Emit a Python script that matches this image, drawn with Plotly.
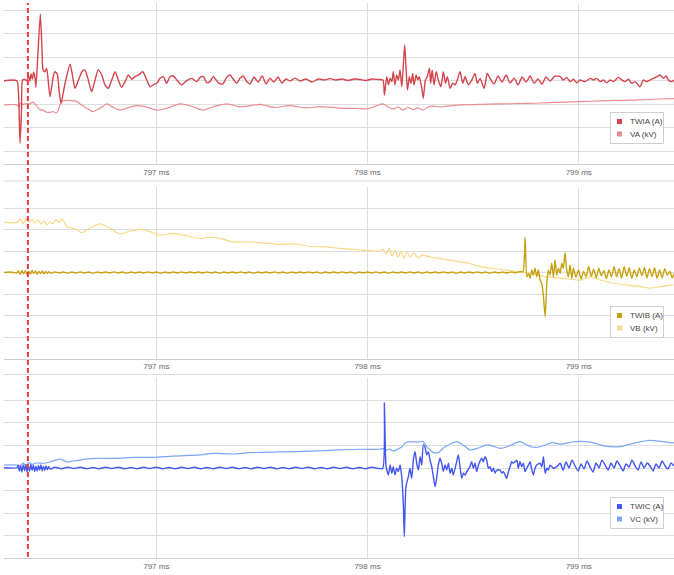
import plotly.graph_objects as go

# ---------------- data (time in microseconds after 796 ms, values in grid units) -------------
TWIA_US = [279, 340, 348, 355, 362, 367, 378, 388, 395, 402, 407, 414, 419, 426, 430, 438, 451, 459, 464, 473,
           481, 497, 512, 520, 531, 541, 549, 568, 592, 604, 615, 626, 639, 648, 658, 664, 678, 694, 710, 725,
           742, 757, 773, 789, 805, 820, 836, 852, 868, 884, 899, 915, 936, 955, 970, 986, 1002, 1018, 1033, 1049,
           1065, 1081, 1097, 1120, 1144, 1168, 1191, 1207, 1223, 1239, 1254, 1270, 1294, 1315, 1333, 1349, 1365, 1381, 1396, 1412,
           1428, 1444, 1463, 1482, 1501, 1520, 1538, 1557, 1576, 1595, 1614, 1633, 1657, 1680, 1709, 1737, 1766, 1794, 1823, 1851,
           1879, 1908, 1936, 1965, 1993, 2021, 2050, 2073, 2080, 2091, 2099, 2107, 2115, 2122, 2130, 2138, 2146, 2154, 2162, 2170,
           2176, 2182, 2189, 2198, 2206, 2214, 2220, 2230, 2238, 2245, 2257, 2264, 2274, 2283, 2293, 2299, 2306, 2315, 2325, 2335,
           2347, 2359, 2369, 2378, 2391, 2404, 2414, 2425, 2438, 2451, 2462, 2477, 2494, 2509, 2520, 2533, 2552, 2567, 2580, 2599,
           2618, 2637, 2656, 2675, 2694, 2713, 2732, 2751, 2770, 2789, 2807, 2826, 2845, 2864, 2888, 2912, 2927, 2943, 2959, 2975,
           2991, 3006, 3030, 3054, 3069, 3085, 3101, 3117, 3133, 3148, 3164, 3188, 3204, 3219, 3235, 3251, 3267, 3290, 3306, 3322,
           3338, 3353, 3370, 3385, 3401, 3414, 3424, 3441, 3451]
TWIA_VAL = [0, 0, -0.61, -2.66, -1.25, 0.03, 0.05, 0, 0.20, -0.01, 0.29, 0.07, 0.37, 0.11, -0.28, 0.88, 2.84, 1.31, 0.46, 0.38,
            0.53, -0.68, 0.17, 0.38, 0.29, -0.52, -0.95, -0.11, 0.70, 0.17, -0.32, -0.11, 0.20, 0.38, 0.46, 0.43, 0.03, -0.47, 0.03, 0.46,
            0.24, -0.18, -0.32, 0.03, 0.38, 0.03, -0.28, -0.04, 0.24, 0.06, 0.17, 0.24, 0.38, 0.03, -0.26, -0.18, -0.11, 0.10, 0.17, -0.11,
            0.17, 0.20, 0.03, -0.18, 0, 0.10, -0.04, 0.14, 0.17, -0.09, -0.04, 0.17, -0.09, -0.14, 0.14, 0.24, 0.06, -0.11, 0.10, 0.20,
            -0.04, -0.14, 0.16, -0.06, 0.20, -0.14, 0.11, -0.06, 0.16, -0.10, 0.07, -0.01, 0.11, -0.01, 0.07, -0.06, 0.07, 0.03, 0.09, 0.03,
            0.07, 0.01, 0.07, 0.05, 0.01, 0.07, 0.05, 0.03, -0.61, 0.17, -0.18, 0.10, -0.04, 0.38, -0.18, 0.24, 0.03, 0.46, -0.26, 0.74,
            1.52, 0.60, -0.40, 0.17, -0.11, 0.31, -0.18, 0.24, 0.03, 0.17, -0.32, -0.75, 0.03, 0.17, 0.53, -0.11, 0.46, -0.18, 0.38, 0.03,
            -0.26, 0.38, -0.11, 0.17, -0.32, -0.11, -0.18, 0.03, 0.38, -0.11, 0.17, -0.18, 0.03, 0.31, -0.11, 0.10, -0.32, 0.31, 0.10, -0.14,
            0.20, -0.06, 0.24, -0.10, 0.11, -0.18, 0.16, -0.06, 0.20, -0.10, 0.07, -0.14, 0.16, -0.01, 0.20, 0.17, 0.03, 0.14, -0.04, 0.06,
            -0.09, 0.03, -0.04, 0.10, 0.03, 0.10, -0.04, 0.03, -0.09, 0.03, -0.04, 0.14, 0.03, -0.04, 0.06, -0.11, -0.04, -0.26, 0.03, -0.04,
            0.03, 0.10, 0.17, 0.24, 0.10, 0.20, 0.03, -0.04, 0.03]

VA_US = [279, 340, 350, 357, 369, 388, 402, 416, 430, 440, 449, 464, 478, 497, 511, 525, 535, 544, 558, 591,
         625, 639, 662, 686, 696, 734, 767, 795, 828, 861, 890, 937, 1003, 1051, 1112, 1174, 1221, 1269, 1335, 1396,
         1434, 1491, 1562, 1633, 1704, 1775, 1870, 1941, 1998, 2040, 2073, 2097, 2121, 2145, 2168, 2192, 2216, 2239, 2263, 2287,
         2310, 2343, 2377, 2438, 2533, 2628, 2722, 2817, 2912, 3006, 3101, 3196, 3290, 3385, 3451]
VA_VAL = [-1.03, -1.03, -1.12, -0.95, -1.01, -0.97, -0.99, -0.91, -1.03, -1.16, -1.23, -1.25, -1.33, -1.35, -1.31, -1.37, -1.29, -1.03, -0.86, -0.84,
          -0.89, -0.99, -1.12, -1.25, -1.32, -1.17, -0.99, -1.13, -1.25, -1.17, -1.08, -1.08, -1.25, -1.17, -0.99, -1.11, -1.25, -1.11, -0.99, -1.11,
          -1.08, -1.01, -1.14, -1.06, -1.16, -1.10, -1.17, -1.18, -1.20, -1.08, -0.99, -1.12, -1.20, -1.12, -1.25, -1.14, -1.23, -1.16, -1.25, -1.12,
          -1.08, -1.12, -1.08, -1.03, -1.01, -0.99, -0.97, -0.95, -0.91, -0.89, -0.86, -0.84, -0.82, -0.78, -0.76]

TWIB_US = [279, 310, 340, 348, 356, 364, 372, 380, 388, 396, 404, 412, 420, 428, 436, 444, 452, 460, 468, 476, 484, 492, 500,
           520, 540, 560, 580, 600, 620, 640, 660, 680, 700,
           720, 740, 760, 780, 800, 820, 840, 860, 880, 900,
           920, 940, 960, 980, 1000, 1020, 1040, 1060, 1080, 1100,
           1120, 1140, 1160, 1180, 1200, 1220, 1240, 1260, 1280, 1300,
           1320, 1340, 1360, 1380, 1400, 1420, 1440, 1460, 1480, 1500,
           1520, 1540, 1560, 1580, 1600, 1620, 1640, 1660, 1680, 1700,
           1720, 1740, 1760, 1780, 1800, 1820, 1840, 1860, 1880, 1900,
           1920, 1940, 1960, 1980, 2000, 2020, 2040, 2060, 2080, 2100,
           2120, 2140, 2160, 2180, 2200, 2220, 2240, 2260, 2280, 2300,
           2320, 2340, 2360, 2380, 2400, 2420, 2440, 2460, 2480, 2500,
           2520, 2540, 2560, 2580, 2600, 2620, 2640, 2660, 2680, 2700,
           2720, 2736,
           2746, 2754, 2762, 2770, 2778, 2785, 2793, 2801, 2809, 2817, 2825, 2833, 2841, 2849, 2856, 2864, 2872, 2880, 2888, 2896,
           2904, 2912, 2920, 2927, 2935, 2943, 2951, 2959, 2967,
           2975, 2987, 2999, 3011, 3023, 3035, 3047, 3059, 3071, 3083, 3095, 3107, 3119, 3131, 3143, 3155, 3167, 3179, 3191, 3203,
           3215, 3227, 3239, 3251, 3263, 3275, 3287, 3299, 3311, 3323, 3335, 3347, 3359, 3371, 3383, 3395, 3407, 3419, 3431, 3443, 3451]
TWIB_VAL = [0.00, 0.02, -0.02, 0.07, -0.08, 0.09, -0.06, 0.08, -0.09, 0.06, -0.07, 0.10, -0.05, 0.07, -0.08, 0.05, -0.05, 0.07, -0.06, 0.05, -0.05, 0.04, -0.03,
            0.03, -0.02, 0.02, -0.03, 0.02, -0.02, 0.03, -0.02, 0.02, -0.03,
            0.02, -0.02, 0.02, -0.02, 0.03, -0.02, 0.02, -0.03, 0.02, -0.02,
            0.02, -0.02, 0.03, -0.02, 0.02, -0.03, 0.02, -0.02, 0.02, -0.02,
            0.03, -0.02, 0.02, -0.02, 0.02, -0.02, 0.03, -0.02, 0.02, -0.03,
            0.02, -0.02, 0.02, -0.02, 0.03, -0.02, 0.02, -0.03, 0.02, -0.02,
            0.02, -0.02, 0.03, -0.02, 0.02, -0.03, 0.02, -0.02, 0.02, -0.02,
            0.03, -0.02, 0.02, -0.03, 0.02, -0.02, 0.02, -0.02, 0.03, -0.02,
            0.02, -0.03, 0.02, -0.02, 0.02, -0.02, 0.03, -0.02, 0.02, -0.03,
            0.02, -0.02, 0.02, -0.02, 0.03, -0.02, 0.02, -0.03, 0.02, -0.02,
            0.02, -0.02, 0.03, -0.02, 0.02, -0.03, 0.02, -0.02, 0.02, -0.02,
            0.03, -0.02, 0.02, -0.03, 0.02, -0.02, 0.02, -0.02, 0.03, -0.02,
            0.04, 0.04,
            1.64, -0.20, -0.04, -0.27, 0.12, -0.12, 0.20, -0.20, 0.12, -0.35, -0.50, -1.13, -2.06, -0.50, 0.12, -0.12, 0.43, -0.20, 0.58, -0.12,
            0.20, -0.04, 0.43, 0.20, 0.92, 0.12, -0.20, 0.35, -0.27,
            0.20, -0.22, 0.12, -0.30, 0.05, -0.20, 0.28, -0.18, 0.15, -0.25, 0.20, -0.15, 0.10, -0.28, 0.12, -0.20, 0.27, -0.20, 0.18, -0.26,
            0.27, -0.18, 0.22, -0.27, 0.12, -0.20, 0.20, -0.15, 0.22, -0.26, 0.18, -0.20, 0.22, -0.27, 0.12, -0.25, 0.18, -0.12, 0.05, -0.26, -0.04]

VB_US = [279, 340, 355, 369, 383, 397, 412, 426, 440, 454, 468, 483, 497, 511, 525, 539, 554, 568, 577, 601,
         625, 648, 686, 734, 781, 828, 876, 923, 970, 1018, 1079, 1145, 1207, 1254, 1302, 1363, 1434, 1515, 1586, 1657,
         1728, 1799, 1870, 1941, 2012, 2059, 2073, 2088, 2102, 2116, 2130, 2145, 2159, 2173, 2187, 2201, 2220, 2239, 2258, 2296,
         2343, 2414, 2485, 2533, 2628, 2707, 2770, 2849, 2927, 3006, 3054, 3101, 3164, 3227, 3290, 3338, 3385, 3448]
VB_VAL = [2.33, 2.33, 2.49, 2.26, 2.51, 2.35, 2.47, 2.30, 2.44, 2.26, 2.40, 2.21, 2.35, 2.26, 2.47, 2.33, 2.49, 2.26, 2.13, 2.07,
          1.98, 1.85, 2.07, 2.26, 2.06, 1.79, 1.93, 2.01, 1.90, 1.74, 1.82, 1.70, 1.59, 1.64, 1.59, 1.43, 1.43, 1.37, 1.30, 1.33,
          1.21, 1.19, 1.12, 1.07, 1.02, 1.00, 1.09, 0.86, 1.14, 0.77, 1.05, 0.72, 1.00, 0.67, 0.95, 0.72, 0.91, 0.67, 0.81, 0.72,
          0.65, 0.53, 0.42, 0.27, 0.15, 0.04, -0.04, -0.20, -0.27, -0.35, -0.20, -0.35, -0.50, -0.58, -0.66, -0.73, -0.66, -0.58]

TWIC_US = [279, 340, 346, 352, 358, 364, 370, 376, 382, 388, 394, 400, 406, 412, 418, 424, 430, 436, 442, 448, 454, 460, 466, 472, 478, 484, 490, 497,
           520, 550, 580, 610, 640, 670, 700, 730, 760, 790, 820, 850, 880, 910, 940, 970, 1000, 1030, 1060, 1090,
           1120, 1150, 1180, 1210, 1240, 1270, 1300, 1330, 1360, 1390, 1420, 1450, 1480, 1510, 1540, 1570, 1600, 1630,
           1660, 1690, 1720, 1750, 1780, 1810, 1840, 1870, 1900, 1930, 1960, 1990, 2020, 2050, 2072,
           2080, 2088, 2099, 2107, 2115, 2122, 2130, 2138, 2146, 2154, 2162, 2170, 2174, 2182, 2193, 2201, 2209, 2217, 2225, 2233,
           2241, 2249, 2257, 2264, 2272, 2280, 2288, 2296, 2304, 2312, 2320, 2328, 2335, 2343, 2351, 2359, 2367, 2375, 2383, 2391,
           2399, 2406, 2422, 2430, 2438, 2446, 2454, 2462, 2470, 2485, 2493, 2501, 2509, 2517, 2525, 2541, 2548, 2556, 2564, 2572,
           2580, 2588, 2596, 2604, 2612, 2628, 2636, 2643, 2659, 2667, 2675, 2683, 2690, 2699, 2707, 2714, 2722, 2730, 2738, 2746,
           2754, 2762, 2770, 2778, 2785, 2793, 2801, 2817, 2825, 2833, 2841, 2849, 2856, 2864, 2880, 2896, 2912,
           2926, 2940, 2954, 2968, 2983, 2997, 3011, 3025, 3039, 3054, 3068, 3082, 3096, 3110, 3125, 3139, 3153, 3167, 3181, 3196,
           3210, 3224, 3238, 3252, 3267, 3281, 3295, 3309, 3324, 3338, 3352, 3366, 3380, 3395, 3409, 3423, 3437, 3451]
TWIC_VAL = [0.01, 0.01, 0.12, -0.15, 0.10, -0.18, 0.14, -0.12, 0.16, -0.17, 0.09, -0.14, 0.15, -0.10, 0.12, -0.16, 0.08, -0.13, 0.11, -0.09, 0.13, -0.12, 0.07, -0.10, 0.09, -0.08, 0.06, -0.05,
            0.03, -0.03, 0.03, -0.02, 0.03, -0.03, 0.02, -0.03, 0.03, -0.02, 0.03, -0.03, 0.02, -0.03, 0.03, -0.02, 0.03, -0.03, 0.02, -0.03,
            0.03, -0.02, 0.03, -0.03, 0.02, -0.03, 0.03, -0.02, 0.03, -0.03, 0.02, -0.03, 0.03, -0.02, 0.03, -0.03, 0.02, -0.03,
            0.03, -0.02, 0.03, -0.03, 0.02, -0.03, 0.03, -0.02, 0.03, -0.03, 0.02, -0.03, 0.03, -0.02, -0.01,
            2.89, 0.06, -0.31, 0.13, -0.23, 0.06, -0.31, -0.01, -0.16, 0.13, -0.39, -1.71, -3.04, -0.83, -0.39, -0.01, -0.46, 0.35, 0.72, 0.21,
            -0.09, 0.50, 0.13, 1.02, 0.94, 0.58, 0.72, 0.35, 0.06, -0.39, -0.83, -0.39, 0.13, 0.43, 0.21, -0.16, 0.13, -0.09, 0.21, -0.23,
            -0.01, -0.31, 0.28, 0.58, 0.06, -0.46, -0.23, -0.31, -0.16, 0.06, 0.28, -0.01, 0.21, -0.16, 0.13, 0.43, 0.28, 0.50, 0.35, -0.01,
            0.06, -0.16, -0.01, -0.23, -0.09, -0.09, -0.23, -0.16, -0.46, -0.16, 0.06, 0.28, 0.21, 0.28, 0.35, -0.01, 0.28, 0.06, 0.21, -0.16,
            -0.01, 0.13, 0.28, -0.09, -0.31, -0.01, 0.13, 0.21, 0.06, 0.50, -0.23, -0.01, -0.09, 0.13, -0.01, 0.06, 0.21,
            -0.09, 0.27, 0.00, 0.35, 0.09, -0.13, 0.18, -0.04, 0.31, 0.04, -0.18, 0.22, 0.00, 0.35, 0.13, -0.09, 0.22, 0.00, 0.31, 0.09,
            -0.13, 0.18, 0.04, 0.35, 0.09, -0.09, 0.27, 0.00, 0.22, 0.09, -0.13, 0.18, 0.00, 0.31, 0.09, -0.04, 0.22, 0.09]

VC_US = [279, 340, 355, 369, 383, 397, 412, 430, 464, 497, 544, 577, 606, 639, 672, 719, 814, 890, 984, 1079,
         1207, 1269, 1363, 1444, 1586, 1728, 1870, 1965, 2059, 2073, 2092, 2107, 2121, 2140, 2154, 2163, 2178, 2201, 2239, 2263,
         2282, 2296, 2315, 2334, 2358, 2391, 2424, 2452, 2485, 2519, 2566, 2594, 2628, 2661, 2689, 2722, 2755, 2784, 2817, 2850,
         2878, 2912, 2983, 3054, 3125, 3196, 3267, 3338, 3395, 3451]
VC_VAL = [0.13, 0.13, 0.09, 0.22, 0.11, 0.24, 0.16, 0.22, 0.21, 0.27, 0.39, 0.27, 0.31, 0.35, 0.40, 0.43, 0.43, 0.47, 0.47, 0.53,
          0.58, 0.65, 0.62, 0.68, 0.71, 0.75, 0.80, 0.83, 0.83, 0.86, 0.80, 0.84, 0.75, 0.82, 0.89, 0.94, 1.11, 1.17, 1.15, 1.17,
          0.94, 0.80, 0.68, 0.68, 0.87, 1.06, 1.17, 1.02, 0.80, 0.87, 1.02, 0.97, 0.87, 0.94, 1.06, 1.17, 1.02, 0.92, 0.94, 1.05,
          1.12, 1.06, 1.17, 1.15, 0.97, 0.95, 1.11, 1.22, 1.17, 1.11]

SERIES_NAMES = [("TWIA (A)", "VA (kV)"), ("TWIB (A)", "VB (kV)"), ("TWIC (A)", "VC (kV)")]
TICK_VALUES_MS = [797, 798, 799]
TICK_LABELS = ["797 ms", "798 ms", "799 ms"]
FAULT_MS = 796.392
X_RANGE_MS = [796.279, 799.451]

# ---------------- styling ----------------
W, H = 674, 575
COLORS = [("#d2454d", "#ea8d92"), ("#c6a211", "#f7d986"), ("#4356ef", "#7ba8f6")]
GRID = "#dedede"
FONT = "Liberation Sans, Arial, sans-serif"

for a, b in [(TWIA_US, TWIA_VAL), (VA_US, VA_VAL), (TWIB_US, TWIB_VAL), (VB_US, VB_VAL),
             (TWIC_US, TWIC_VAL), (VC_US, VC_VAL)]:
    assert len(a) == len(b), (len(a), len(b))


def to_ms(us):
    return [796 + u / 1000.0 for u in us]


def py(p):
    return 1 - p / H


def px(p):
    return p / W


# panel geometry in pixels from top, and y ranges in grid units
PANELS = [
    dict(top=3.0, bottom=164.0, yrange=[-3.545, 3.306]),
    dict(top=186.5, bottom=358.5, yrange=[-4, 4]),
    dict(top=377.7, bottom=558.3, yrange=[-4, 4]),
]

data_sets = [
    (TWIA_US, TWIA_VAL, VA_US, VA_VAL),
    (TWIB_US, TWIB_VAL, VB_US, VB_VAL),
    (TWIC_US, TWIC_VAL, VC_US, VC_VAL),
]

fig = go.Figure()
for k, (tu, tv, vu, vv) in enumerate(data_sets):
    suffix = "" if k == 0 else str(k + 1)
    fig.add_trace(go.Scatter(x=to_ms(vu), y=vv, mode="lines", name=SERIES_NAMES[k][1],
                             line=dict(color=COLORS[k][1], width=1.2, shape="spline", smoothing=0.8),
                             xaxis="x" + suffix, yaxis="y" + suffix, showlegend=False, hoverinfo="skip"))
    fig.add_trace(go.Scatter(x=to_ms(tu), y=tv, mode="lines", name=SERIES_NAMES[k][0],
                             line=dict(color=COLORS[k][0], width=1.4, shape="spline", smoothing=0.6),
                             xaxis="x" + suffix, yaxis="y" + suffix, showlegend=False, hoverinfo="skip"))

layout = dict(
    width=W, height=H, margin=dict(l=0, r=0, t=0, b=0, pad=0),
    paper_bgcolor="white", plot_bgcolor="white",
    font=dict(family=FONT, size=8, color="#666"),
    showlegend=False, hovermode=False,
)
shapes = []
annotations = []
for k, p in enumerate(PANELS):
    suffix = "" if k == 0 else str(k + 1)
    layout["xaxis" + suffix] = dict(
        domain=[px(4), 1], range=X_RANGE_MS, anchor="y" + suffix,
        tickvals=TICK_VALUES_MS, ticktext=TICK_LABELS, ticks="", showgrid=True, gridcolor=GRID, gridwidth=1,
        showline=True, linecolor="#d0d0d0", linewidth=1, zeroline=False,
        tickfont=dict(size=8, color="#666"), fixedrange=True, automargin=False,
    )
    layout["yaxis" + suffix] = dict(
        domain=[py(p["bottom"]), py(p["top"])], range=p["yrange"], anchor="x" + suffix,
        dtick=1, tick0=0, showticklabels=False, ticks="", showgrid=True, gridcolor=GRID, gridwidth=1,
        zeroline=False, showline=False, fixedrange=True, automargin=False,
    )

# separators between panels
for ysep in (181.0, 374.5):
    shapes.append(dict(type="line", xref="paper", yref="paper", x0=px(4), x1=1, y0=py(ysep), y1=py(ysep),
                       line=dict(color="#dcdcdc", width=1), layer="below"))

# fault marker
shapes.append(dict(type="line", xref="x", yref="paper", x0=FAULT_MS, x1=FAULT_MS, y0=py(557), y1=py(3),
                   line=dict(color="#e8393c", width=2, dash="5px,3px"), layer="above"))

# legends (boxes with square swatches)
LEG_TOPS = [112.5, 306.5, 497.5]
for k, top in enumerate(LEG_TOPS):
    shapes.append(dict(type="rect", xref="paper", yref="paper", x0=px(610.5), x1=px(663.5),
                       y0=py(top + 31), y1=py(top), line=dict(color="#cfcfcf", width=1),
                       fillcolor="white", layer="above"))
    for j, off in enumerate((9.0, 21.5)):
        cy = top + off
        shapes.append(dict(type="rect", xref="paper", yref="paper", x0=px(617.0), x1=px(622.0),
                           y0=py(cy + 2.5), y1=py(cy - 2.5), line=dict(width=0),
                           fillcolor=COLORS[k][j], layer="above"))
        annotations.append(dict(xref="paper", yref="paper", x=px(627.5), y=py(cy), text=SERIES_NAMES[k][j],
                                showarrow=False, xanchor="left", yanchor="middle",
                                font=dict(size=8, color="#444", family=FONT)))

layout["shapes"] = shapes
layout["annotations"] = annotations
fig.update_layout(**layout)
fig.write_html("out.html", config={"displayModeBar": False},
               post_script="document.body.style.margin='0px';")
